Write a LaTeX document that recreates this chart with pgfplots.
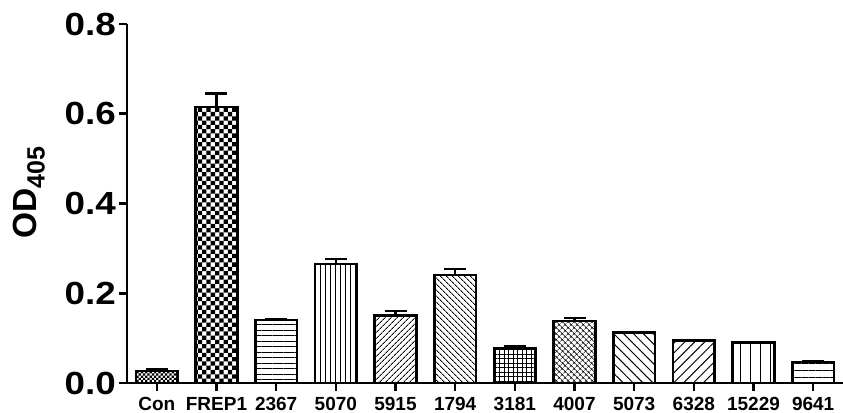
\documentclass[border=0pt]{standalone}
\usepackage{fontspec}
\setmainfont{Liberation Sans}
\newfontfamily\tickfont{Liberation Sans}[FakeStretch=1.15]
\usepackage{pgfplots}
\pgfplotsset{compat=1.18}
\usetikzlibrary{patterns,patterns.meta}
\pgfdeclarepatternformonly{bigcheck}{\pgfqpoint{-0.1pt}{-0.1pt}}{\pgfqpoint{8.6pt}{8.6pt}}{\pgfqpoint{8.6pt}{8.6pt}}{%
  \pgfpathrectangle{\pgfpointorigin}{\pgfqpoint{4.3pt}{4.3pt}}%
  \pgfpathrectangle{\pgfqpoint{4.3pt}{4.3pt}}{\pgfqpoint{4.3pt}{4.3pt}}%
  \pgfusepath{fill}}
\pgfdeclarepatternformonly{smallcheck}{\pgfqpoint{-0.1pt}{-0.1pt}}{\pgfqpoint{4.4pt}{4.4pt}}{\pgfqpoint{4.4pt}{4.4pt}}{%
  \pgfpathrectangle{\pgfpointorigin}{\pgfqpoint{2.2pt}{2.2pt}}%
  \pgfpathrectangle{\pgfqpoint{2.2pt}{2.2pt}}{\pgfqpoint{2.2pt}{2.2pt}}%
  \pgfusepath{fill}}
\begin{document}
\begin{tikzpicture}
\begin{axis}[
  scale only axis, width=716pt, height=359pt,
  xmin=-0.5, xmax=11.5, ymin=0, ymax=0.8,
  ybar, bar width=0.7,
  every axis plot/.append style={bar shift=0pt, draw=black, line width=2.6pt},
  axis x line*=bottom, axis y line*=left,
  axis line style={line width=2.6pt, -},
  ytick={0,0.2,0.4,0.6,0.8},
  /pgf/number format/assume math mode=true,
  /pgf/number format/fixed, /pgf/number format/fixed zerofill, /pgf/number format/precision=1,
  y tick label style={font=\tickfont\bfseries\fontsize{32}{32}\selectfont, inner sep=0pt, xshift=-3pt},
  x tick label style={font=\bfseries\fontsize{19}{19}\selectfont, inner sep=0pt, yshift=-6pt},
  xtick={0,...,11},
  xticklabels={Con,FREP1,2367,5070,5915,1794,3181,4007,5073,6328,15229,9641},
  tick align=outside, major tick length=8pt,
  tick style={line width=2.6pt, black},
  ylabel={\bfseries\fontsize{33.5}{33.5}\selectfont OD\raisebox{-8pt}{\fontsize{25}{25}\selectfont 405}},
  ylabel style={at={(axis description cs:-0.1592,0.53)}, anchor=north, inner sep=0pt},
  error bars/y dir=plus, error bars/y explicit,
  error bars/error bar style={line width=2.6pt},
  error bars/error mark options={rotate=90, line width=2.6pt, mark size=11pt},
  clip=false,
]
\addplot[pattern=smallcheck] coordinates {(0,0.027) +- (0,0.004)};
\addplot[pattern=bigcheck] coordinates {(1,0.615) +- (0,0.030)};
\addplot[pattern={Lines[angle=0,distance=5.5pt,line width=1pt]}] coordinates {(2,0.140) +- (0,0.002)};
\addplot[pattern={Lines[angle=90,distance=5pt,line width=1pt]}] coordinates {(3,0.265) +- (0,0.011)};
\addplot[pattern={Lines[angle=45,distance=4pt,line width=1pt]}] coordinates {(4,0.150) +- (0,0.010)};
\addplot[pattern={Lines[angle=-45,distance=4pt,line width=1pt]}] coordinates {(5,0.241) +- (0,0.013)};
\addplot[pattern={Hatch[angle=0,distance=4.5pt,line width=1pt]}] coordinates {(6,0.077) +- (0,0.004)};
\addplot[pattern={Hatch[angle=45,distance=4pt,line width=0.6pt]}] coordinates {(7,0.138) +- (0,0.007)};
\addplot[pattern={Lines[angle=-45,distance=7pt,line width=1pt]}] coordinates {(8,0.113) +- (0,0.001)};
\addplot[pattern={Lines[angle=45,distance=7pt,line width=1pt]}] coordinates {(9,0.095) +- (0,0.001)};
\addplot[pattern={Lines[angle=90,distance=10pt,line width=1pt]}] coordinates {(10,0.090) +- (0,0.001)};
\addplot[pattern={Lines[angle=0,distance=7pt,line width=1pt]}] coordinates {(11,0.047) +- (0,0.001)};
\end{axis}
\pgfresetboundingbox
\path ([xshift=-127pt,yshift=-30pt]current axis.south west) rectangle ([yshift=24pt]current axis.north east);
\end{tikzpicture}
\end{document}
